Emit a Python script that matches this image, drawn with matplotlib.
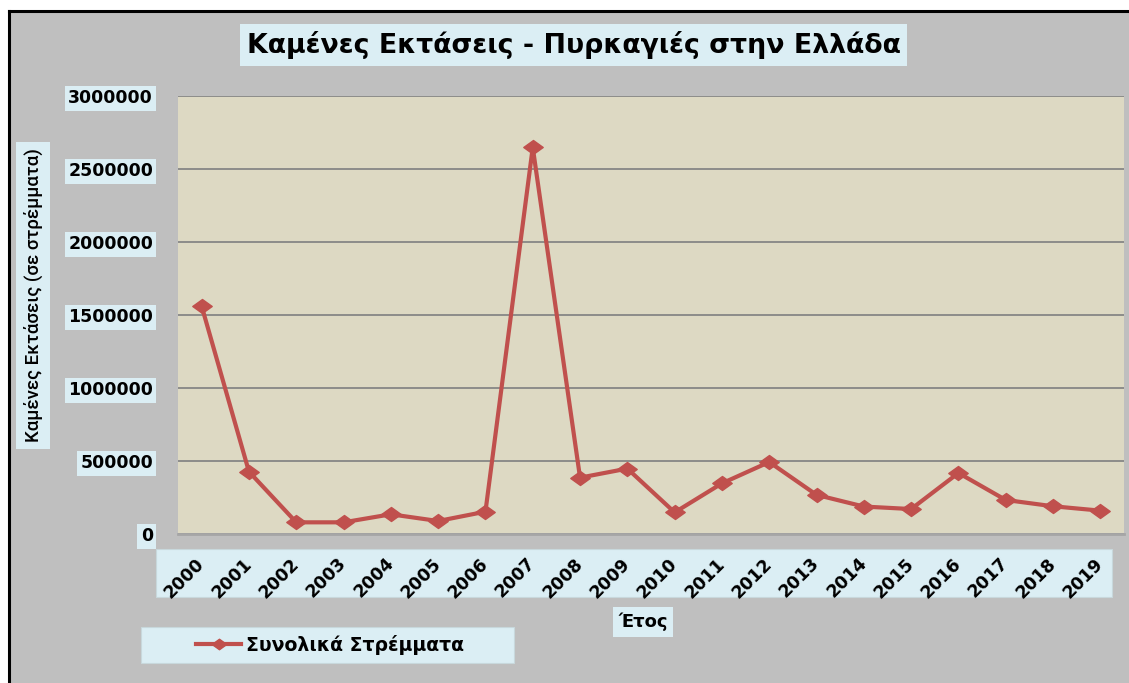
import numpy as np
import matplotlib.pyplot as plt
from matplotlib.patches import Rectangle
from matplotlib.lines import Line2D
from matplotlib.path import Path

# burnt area per year (stremmata)
years = [str(y) for y in range(2000, 2020)]
area = [1563000, 429000, 82000, 82000, 137000, 91000, 155000, 2650000, 388000, 450000,
        150000, 349000, 495000, 270000, 190000, 173000, 420000, 235000, 192000, 162000]
yticks = [0, 500000, 1000000, 1500000, 2000000, 2500000, 3000000]

title = 'Καμένες Εκτάσεις - Πυρκαγιές στην Ελλάδα'
ylabel = 'Καμένες Εκτάσεις (σε στρέμματα)'
xlabel = 'Έτος'
series_name = 'Συνολικά Στρέμματα'

red = '#C0504D'
boxc = '#DBEEF4'
W, H = 1129, 683

def fx(px):
    return px / W

def fy(py):
    return 1 - py / H

fig = plt.figure(figsize=(W / 100, H / 100), dpi=100)
fig.patch.set_facecolor('white')

# grey chart area with black frame on top/left
fig.patches.append(Rectangle((fx(9), 0), 1 - fx(9), fy(11), transform=fig.transFigure,
                             facecolor='#BFBFBF', edgecolor='none', zorder=-3))
fig.lines.append(Line2D([fx(9), fx(9)], [0, fy(11)], transform=fig.transFigure, color='black', lw=2.2))
fig.lines.append(Line2D([fx(9), 1], [fy(11), fy(11)], transform=fig.transFigure, color='black', lw=2.2))

# box behind x tick labels
fig.patches.append(Rectangle((fx(156), fy(597)), fx(1112) - fx(156), fy(549) - fy(597),
                             transform=fig.transFigure, facecolor=boxc, edgecolor='#C8D8DC',
                             lw=0.8, zorder=-2))
# legend box
fig.patches.append(Rectangle((fx(141), fy(663)), fx(514) - fx(141), fy(627) - fy(663),
                             transform=fig.transFigure, facecolor=boxc, edgecolor='#C8D8DC',
                             lw=0.8, zorder=-2))

ax = fig.add_axes([fx(178), fy(534.3), fx(1124) - fx(178), fy(96.3) - fy(534.3)])
ax.set_facecolor('#DDD9C3')

diamond = Path([(-1, 0), (0, 0.72), (1, 0), (0, -0.72), (-1, 0)],
               [Path.MOVETO, Path.LINETO, Path.LINETO, Path.LINETO, Path.CLOSEPOLY])
x = np.arange(len(years))
ax.plot(x, area, color=red, lw=3, marker=diamond, ms=14, mec=red, mfc=red,
        label=series_name, zorder=3)

ax.set_xlim(-0.5, len(years) - 0.5)
ax.set_ylim(0, 3000000)
ax.set_yticks(yticks)
ax.set_yticklabels([str(v) for v in yticks])
ax.set_xticks(x)
ax.set_xticklabels(years)
ax.grid(axis='y', color='#868686', lw=1.3)
ax.set_axisbelow(True)
ax.tick_params(length=0)
ax.tick_params(axis='y', pad=18)
ax.tick_params(axis='x', pad=19)

for s in ['left', 'top', 'right']:
    ax.spines[s].set_visible(False)
ax.spines['bottom'].set_color('#A6A6A6')
ax.spines['bottom'].set_linewidth(2)

for lab in ax.get_yticklabels():
    lab.set_fontsize(12.5)
    lab.set_fontweight('bold')
    lab.set_bbox(dict(facecolor=boxc, edgecolor='none', pad=2.5))

for lab in ax.get_xticklabels():
    lab.set_fontsize(12.5)
    lab.set_fontweight('bold')
    lab.set_rotation(45)
    lab.set_ha('right')
    lab.set_va('center')
    lab.set_rotation_mode('anchor')

fig.text(fx(573.5), fy(45), title, ha='center', va='center', fontsize=19.3, fontweight='bold',
         bbox=dict(facecolor=boxc, edgecolor='none', pad=5))
fig.text(fx(33), fy(295.5), ylabel, ha='center', va='center', rotation=90, family='Roboto',
         fontsize=13.5, fontweight='medium', bbox=dict(facecolor=boxc, edgecolor='none', pad=5))
fig.text(fx(643), fy(622), xlabel, ha='center', va='center', fontsize=13, fontweight='bold',
         bbox=dict(facecolor=boxc, edgecolor='none', pad=4))

leg = fig.legend(loc='center left', bbox_to_anchor=(fx(196), fy(645)), frameon=False,
                 prop=dict(size=13.6, weight='bold'), handlelength=2.4, handletextpad=0.25,
                 borderaxespad=0, borderpad=0, markerscale=0.75)

fig.savefig('out.png', dpi=100)
